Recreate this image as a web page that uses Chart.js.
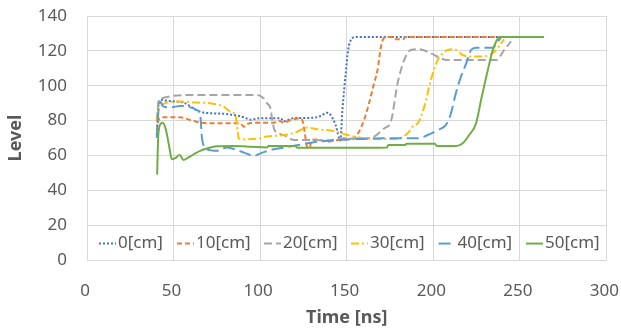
<!DOCTYPE html>
<html><head><meta charset="utf-8">
<script src="https://cdn.jsdelivr.net/npm/chart.js@4/dist/chart.umd.min.js"></script>
<style>html,body{margin:0;padding:0;background:#fff;}#wrap{width:621px;height:331px;position:relative;}</style>
</head><body><div id="wrap"><canvas id="c" width="621" height="331"></canvas></div>
<script>
const seriesNames = ["0[cm]", "10[cm]", "20[cm]", "30[cm]", "40[cm]", "50[cm]"];
const xTickValues = [0, 50, 100, 150, 200, 250, 300];
const yTickValues = [0, 20, 40, 60, 80, 100, 120, 140];

const t0 = [40.3, 41.2, 42.5, 45, 50, 56, 60, 64, 68, 74, 80, 86, 90.5, 94.4, 100, 106, 112, 113.5, 116, 120, 126, 132, 135, 138.4, 140.7, 143.6, 146.3, 147.5, 148.5, 149.6, 150.5, 151.3, 152.3, 154.2, 160, 180, 200, 220, 239];
const v0 = [72, 88, 92, 91.5, 91, 90.2, 88, 85.5, 84.5, 84.1, 83.8, 83, 81.9, 80.5, 81.3, 81.3, 81.3, 79.5, 80.3, 81.5, 81.5, 81.8, 82.6, 84.5, 83.2, 77.4, 68.6, 86, 97.5, 109, 118, 123, 126, 127.8, 128, 128, 128, 128, 128];

const t1 = [40.3, 41.5, 44.2, 50, 53.9, 59.7, 65.4, 73.1, 82.8, 88.6, 90.4, 92.5, 98.3, 104, 107.9, 110.6, 113.7, 117.6, 122.4, 124.3, 125.7, 126.8, 127.6, 128.8, 129.5, 133, 138.8, 144.6, 150.4, 154.2, 157.1, 160, 162.9, 165.8, 167.8, 169.7, 171.6, 176, 177.5, 182.5, 184, 200, 220, 239];
const v1 = [74, 80.7, 81.9, 81.9, 81.9, 80.3, 78.8, 78.4, 78.4, 78.4, 76.5, 78, 78.8, 78.8, 78.8, 79.9, 78.8, 80.3, 81.2, 80.3, 73.6, 66, 64.6, 64.6, 68.8, 69.2, 67.9, 68.8, 69.2, 69.8, 73.6, 80.3, 89.9, 101.4, 109, 122, 127.5, 128, 126.6, 126.6, 128, 128, 128, 128];

const t2 = [40.3, 41.3, 43.2, 50, 59.7, 63.5, 71.2, 80, 90, 98.3, 102, 104, 106, 107, 108.3, 110.8, 115.6, 119.5, 129, 138.8, 148.4, 158, 165.8, 171.6, 175.5, 179.4, 183.2, 187, 191.9, 198.6, 204.4, 208.3, 220, 236.3, 241, 244, 245];
const v2 = [80, 91, 92.8, 94.2, 94.7, 94.7, 94.7, 94.7, 94.6, 94.7, 92.8, 89.9, 87, 80.3, 74.6, 72.7, 70.8, 68.8, 68.8, 68.5, 69.8, 69.6, 70.8, 75.5, 79.4, 101.4, 114.7, 120.5, 120.9, 118.6, 115.7, 114.7, 114.7, 114.7, 120.5, 124.3, 125.5];

const t3 = [40.3, 41.5, 43.2, 46.2, 53.9, 63.5, 71.2, 78.9, 82.8, 85.7, 86.7, 87.6, 91.5, 98.3, 104, 113.7, 120, 127.2, 133, 142.6, 150.4, 160, 171.6, 179.4, 185.2, 189, 191, 194.8, 198.6, 202.5, 205.4, 208.3, 212.1, 217, 221.8, 227.6, 232.4, 236.3, 239, 241];
const v3 = [80, 87, 88.9, 90.3, 90.9, 90.3, 89.9, 88, 85.1, 83.2, 76.5, 69.8, 69.2, 69.6, 70.8, 71.7, 73, 76, 75, 74, 71.7, 69.8, 69.4, 69.6, 72.7, 77.5, 78.4, 88, 103.3, 114.7, 118.6, 120.5, 120.9, 117.6, 116.7, 116.7, 117.6, 120.5, 124.3, 126.6];

const t4 = [40.3, 41.3, 42.3, 44.2, 48, 53.9, 58, 61.6, 63.5, 65.4, 66.4, 69.3, 75, 80.9, 86.7, 91, 94.4, 96.3, 100.2, 106, 113.7, 123.3, 133, 144.6, 152.3, 158, 171.6, 181.3, 191, 196.7, 202.5, 207.3, 210.2, 213, 216, 219, 221.8, 224.7, 231.5, 234.4, 237.3, 239];
const v4 = [70, 86, 90.8, 88, 87.6, 88.4, 88, 87, 86, 83.2, 69.8, 63.5, 62.7, 64.6, 63.1, 61.5, 60.2, 59.7, 61.2, 63.1, 64.5, 66.2, 67.9, 68.8, 69.3, 69.4, 69.8, 69.8, 69.8, 71.7, 74.5, 77.5, 84.1, 95.6, 105.2, 112.8, 120.5, 121.8, 121.8, 121.8, 125.3, 127.5];

const t5 = [40.5, 41.2, 42.5, 43.8, 45.5, 47.5, 49, 51, 53.5, 55.8, 58, 61.6, 65, 69.3, 75, 85, 95, 104, 104.8, 120.5, 121.3, 150, 173.3, 174, 183.8, 184.5, 201, 202, 213, 217, 220.7, 224.7, 227.6, 231.5, 234.4, 237.3, 239, 250, 264];
const v5 = [49, 72, 78, 78.8, 75, 65, 57.8, 58.5, 60.2, 57.4, 58.5, 60.6, 62.5, 64, 65.2, 65.4, 65, 64.6, 65.4, 65.4, 64.4, 64.4, 64.6, 66, 66, 66.7, 66.7, 65.4, 65.4, 67, 71.7, 78.4, 91.8, 109, 120.5, 127, 128, 128, 128];

const times = [t0, t1, t2, t3, t4, t5];
const levels = [v0, v1, v2, v3, v4, v5];

const lineStyles = [
  { color: '#4472C4', dash: [2, 2] },
  { color: '#ED7D31', dash: [5, 3] },
  { color: '#A5A5A5', dash: [8, 4] },
  { color: '#FFC000', dash: [8, 3, 2, 3] },
  { color: '#5B9BD5', dash: [12, 5] },
  { color: '#70AD47', dash: [] }
];

const datasets = seriesNames.map((name, i) => ({
  label: name,
  data: times[i].map((t, k) => ({ x: t, y: levels[i][k] })),
  borderColor: lineStyles[i].color,
  backgroundColor: lineStyles[i].color,
  borderDash: lineStyles[i].dash,
  borderWidth: 2,
  pointRadius: 0,
  fill: false,
  cubicInterpolationMode: 'monotone',
  order: seriesNames.length - 1 - i
}));

const FONT = '"Noto Sans", "Open Sans", sans-serif';
const TXT = '#595959';
const GRID = '#D9D9D9';

const inLegend = {
  id: 'inLegend',
  afterDraw(chart) {
    const ctx = chart.ctx;
    const ys = chart.scales.y;
    const y = (ys.getPixelForValue(0) + ys.getPixelForValue(20)) / 2 + 1;
    const xs = [99, 177, 264, 351, 438.5, 526];
    ctx.save();
    ctx.font = '17px ' + FONT;
    ctx.textBaseline = 'middle';
    ctx.textAlign = 'left';
    chart.data.datasets.forEach((ds, i) => {
      const x0 = xs[i];
      ctx.strokeStyle = ds.borderColor;
      ctx.lineWidth = 2;
      ctx.setLineDash(ds.borderDash || []);
      ctx.beginPath();
      ctx.moveTo(x0, y);
      ctx.lineTo(x0 + 17, y);
      ctx.stroke();
      ctx.setLineDash([]);
      ctx.fillStyle = TXT;
      ctx.fillText(ds.label, x0 + 19, y);
    });
    ctx.restore();
  }
};

new Chart(document.getElementById('c'), {
  type: 'line',
  data: { datasets },
  plugins: [inLegend],
  options: {
    responsive: false,
    animation: false,
    devicePixelRatio: 1,
    layout: { padding: { top: 16, right: 14, bottom: 0, left: 0 } },
    plugins: { legend: { display: false }, tooltip: { enabled: false } },
    scales: {
      x: {
        type: 'linear', min: 0, max: 300,
        afterBuildTicks: s => { s.ticks = xTickValues.map(v => ({ value: v })); },
        afterFit: s => { s.height = 71; },
        grid: { color: GRID, lineWidth: 1, drawTicks: true, tickLength: 21, tickColor: 'rgba(0,0,0,0)' },
        border: { color: GRID, width: 1 },
        ticks: { color: TXT, font: { family: FONT, size: 17 }, padding: 0, labelOffset: -2, maxRotation: 0 },
        title: { display: true, text: 'Time [ns]', color: TXT, font: { family: FONT, size: 18, weight: 'bold' }, padding: { top: 0, bottom: 2 } }
      },
      y: {
        type: 'linear', min: 0, max: 140,
        afterBuildTicks: s => { s.ticks = yTickValues.map(v => ({ value: v })); },
        afterFit: s => { s.width = 87; },
        grid: { color: GRID, lineWidth: 1, drawTicks: true, tickLength: 20, tickColor: 'rgba(0,0,0,0)' },
        border: { color: GRID, width: 1 },
        ticks: { color: TXT, font: { family: FONT, size: 17 }, padding: 0 },
        title: { display: true, text: 'Level', color: TXT, font: { family: FONT, size: 18, weight: 'bold' }, padding: { top: 5, bottom: 0 } }
      }
    }
  }
});
</script></body></html>
